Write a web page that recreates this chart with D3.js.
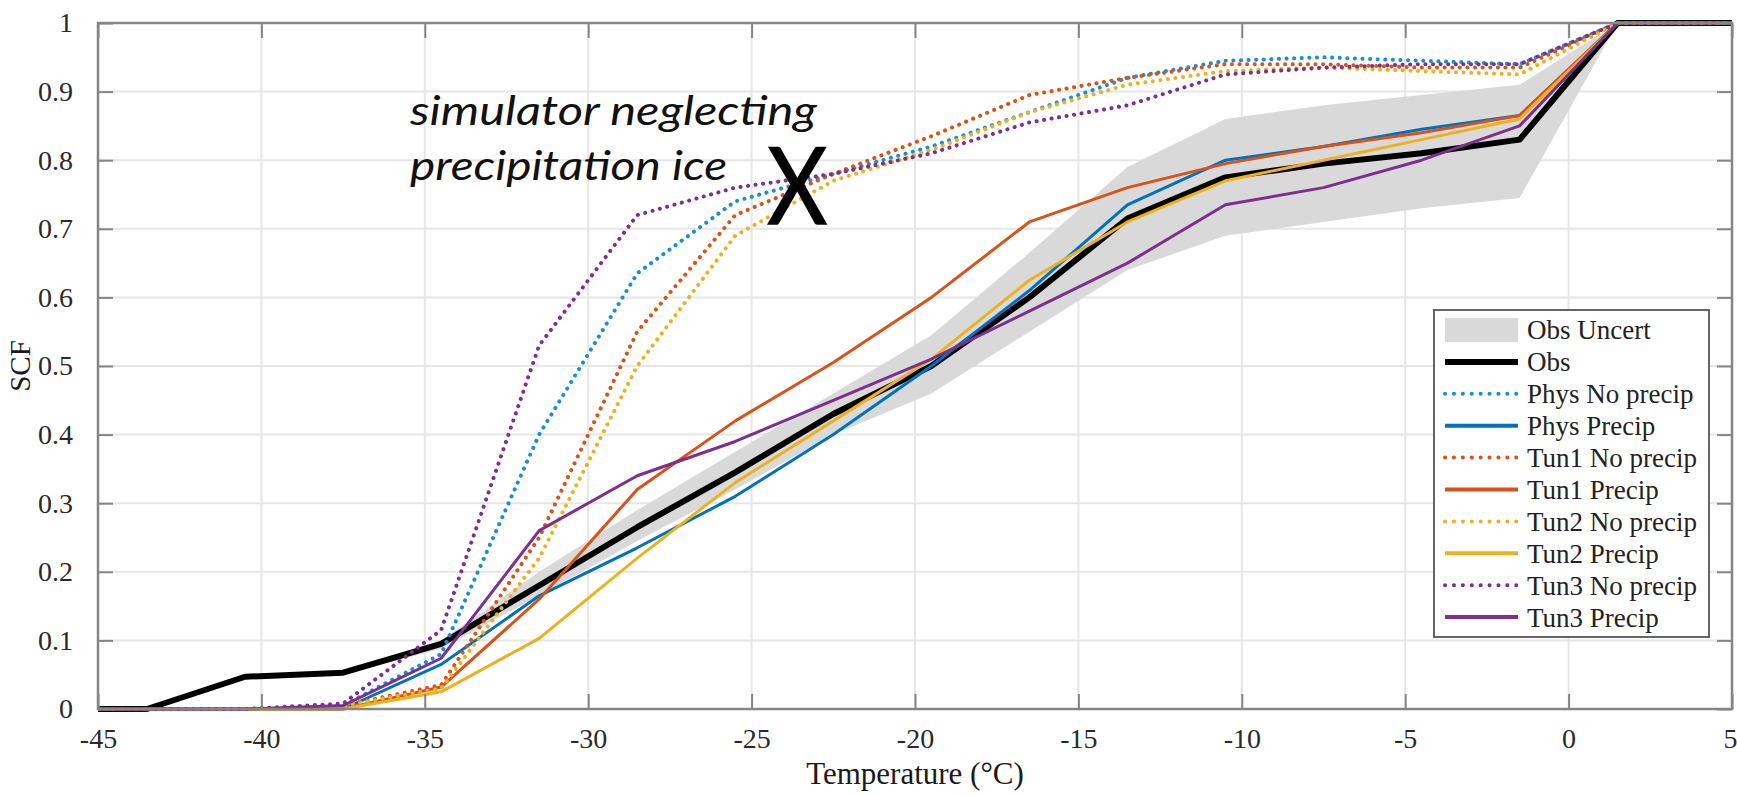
<!DOCTYPE html>
<html>
<head>
<meta charset="utf-8">
<script src="https://cdn.jsdelivr.net/npm/d3@7"></script>
<style>
  html, body { margin: 0; padding: 0; background: #fff; }
  svg { display: block; }
</style>
</head>
<body>
<svg id="chart" width="1737" height="795"></svg>
<script>
// ---------------- data ----------------
const temps = [-46.5, -43.5, -40.5, -37.5, -34.5, -31.5, -28.5, -25.5, -22.5, -19.5, -16.5, -13.5, -10.5, -7.5, -4.5, -1.5, 1.5, 4.5, 7.5];

const obs       = [0, 0, 0.047, 0.053, 0.095, 0.18, 0.265, 0.345, 0.43, 0.50, 0.60, 0.715, 0.775, 0.795, 0.81, 0.83, 1, 1, 1];
const obsLow    = [0, 0, 0.045, 0.05, 0.088, 0.165, 0.245, 0.32, 0.40, 0.46, 0.55, 0.64, 0.69, 0.71, 0.73, 0.745, 1, 1, 1];
const obsHigh   = [0, 0, 0.05, 0.056, 0.10, 0.20, 0.29, 0.375, 0.46, 0.545, 0.665, 0.79, 0.86, 0.88, 0.895, 0.91, 1, 1, 1];

const physNo    = [0, 0, 0, 0.005, 0.08, 0.40, 0.635, 0.74, 0.78, 0.82, 0.87, 0.92, 0.945, 0.95, 0.945, 0.94, 1, 1, 1];
const physP     = [0, 0, 0, 0, 0.065, 0.165, 0.235, 0.31, 0.40, 0.50, 0.61, 0.735, 0.80, 0.82, 0.845, 0.865, 1, 1, 1];
const tun1No    = [0, 0, 0, 0.005, 0.035, 0.25, 0.55, 0.72, 0.78, 0.835, 0.895, 0.92, 0.94, 0.94, 0.935, 0.935, 1, 1, 1];
const tun1P     = [0, 0, 0, 0, 0.032, 0.16, 0.32, 0.42, 0.505, 0.60, 0.71, 0.76, 0.795, 0.82, 0.84, 0.865, 1, 1, 1];
const tun2No    = [0, 0, 0, 0.005, 0.03, 0.22, 0.50, 0.69, 0.77, 0.815, 0.87, 0.91, 0.93, 0.935, 0.93, 0.925, 1, 1, 1];
const tun2P     = [0, 0, 0, 0, 0.025, 0.103, 0.22, 0.33, 0.42, 0.51, 0.625, 0.71, 0.77, 0.80, 0.83, 0.86, 1, 1, 1];
const tun3No    = [0, 0, 0, 0.008, 0.115, 0.53, 0.72, 0.76, 0.78, 0.81, 0.855, 0.88, 0.925, 0.935, 0.94, 0.94, 1, 1, 1];
const tun3P     = [0, 0, 0, 0.005, 0.074, 0.26, 0.34, 0.39, 0.45, 0.51, 0.58, 0.65, 0.735, 0.76, 0.80, 0.85, 1, 1, 1];

const seriesNames  = ["Obs", "Phys No precip", "Phys Precip", "Tun1 No precip", "Tun1 Precip", "Tun2 No precip", "Tun2 Precip", "Tun3 No precip", "Tun3 Precip"];
const seriesValues = [obs, physNo, physP, tun1No, tun1P, tun2No, tun2P, tun3No, tun3P];
const seriesColors = ["#000000", "#1a8fd0", "#0072BD", "#D95319", "#D95319", "#EDB120", "#EDB120", "#7E2F8E", "#7E2F8E"];
const seriesDotted = [false, true, false, true, false, true, false, true, false];
const bandName = "Obs Uncert";

const xTicks = [-45, -40, -35, -30, -25, -20, -15, -10, -5, 0, 5];
const yTicks = [0, 0.1, 0.2, 0.3, 0.4, 0.5, 0.6, 0.7, 0.8, 0.9, 1];
const yTickLabels = ["0", "0.1", "0.2", "0.3", "0.4", "0.5", "0.6", "0.7", "0.8", "0.9", "1"];

const annotationLines = ["simulator neglecting", "precipitation ice"];
const markerPoint = { t: -23.6, v: 0.763 };

// ---------------- layout ----------------
const pL = 98, pR = 1732, pT = 23, pB = 709;
const serif = "'Liberation Serif', 'Times New Roman', serif";

const svg = d3.select("#chart");
const x = d3.scaleLinear().domain([-45, 5]).range([pL, pR]);
const y = d3.scaleLinear().domain([0, 1]).range([pB, pT]);

svg.append("defs").append("clipPath").attr("id", "plotClip")
  .append("rect").attr("x", pL).attr("y", pT - 4).attr("width", pR - pL).attr("height", pB - pT + 8);

// grid
const grid = svg.append("g");
grid.selectAll("line.gx").data(xTicks).join("line").attr("class", "gx")
  .attr("x1", d => x(d)).attr("x2", d => x(d)).attr("y1", pT).attr("y2", pB)
  .attr("stroke", "#e6e6e6").attr("stroke-width", 2);
grid.selectAll("line.gy").data(yTicks).join("line").attr("class", "gy")
  .attr("y1", d => y(d)).attr("y2", d => y(d)).attr("x1", pL).attr("x2", pR)
  .attr("stroke", "#e6e6e6").attr("stroke-width", 2);

const plot = svg.append("g").attr("clip-path", "url(#plotClip)");

// uncertainty band
const area = d3.area()
  .x((d, i) => x(temps[i]))
  .y0((d, i) => y(obsLow[i]))
  .y1((d, i) => y(obsHigh[i]));
plot.append("path").datum(obs).attr("d", area).attr("fill", "#d9d9d9").attr("stroke", "none");

// lines
const line = d3.line().x((d, i) => x(temps[i])).y(d => y(d));
seriesValues.forEach((vals, k) => {
  const p = plot.append("path").datum(vals).attr("d", line)
    .attr("fill", "none")
    .attr("stroke", seriesColors[k])
    .attr("stroke-linejoin", "round");
  if (k === 0) {
    p.attr("stroke-width", 6);
  } else if (seriesDotted[k]) {
    p.attr("stroke-width", 4).attr("stroke-dasharray", "0.1 7.5").attr("stroke-linecap", "round");
  } else {
    p.attr("stroke-width", 3);
  }
});

// axes
const axisColor = "#858585";
const tickLen = 15;
const gx = svg.append("g").attr("transform", `translate(0,${pB})`)
  .call(d3.axisBottom(x).tickValues(xTicks).tickSizeInner(-tickLen).tickSizeOuter(0).tickPadding(19));
const gy = svg.append("g").attr("transform", `translate(${pL},0)`)
  .call(d3.axisLeft(y).tickValues(yTicks).tickFormat((d, i) => yTickLabels[i]).tickSizeInner(-tickLen).tickSizeOuter(0).tickPadding(25));
const gt = svg.append("g").attr("transform", `translate(0,${pT})`)
  .call(d3.axisTop(x).tickValues(xTicks).tickFormat("").tickSizeInner(-tickLen).tickSizeOuter(0));
const gr = svg.append("g").attr("transform", `translate(${pR},0)`)
  .call(d3.axisRight(y).tickValues(yTicks).tickFormat("").tickSizeInner(-tickLen).tickSizeOuter(0));
[gx, gy, gt, gr].forEach(g => {
  g.select(".domain").remove();
  g.selectAll(".tick line").attr("stroke", axisColor).attr("stroke-width", 2);
  g.selectAll(".tick text").attr("fill", "#2a2a2a").attr("font-family", serif).attr("font-size", 28);
});
gx.selectAll(".tick text").text(d => d < 0 ? "-" + Math.abs(d) : String(d));
// keep the last label inside the page edge
gx.selectAll(".tick text").filter(d => d === 5).attr("text-anchor", "end").attr("dx", 5);

svg.append("rect").attr("x", pL).attr("y", pT).attr("width", pR - pL).attr("height", pB - pT)
  .attr("fill", "none").attr("stroke", axisColor).attr("stroke-width", 2.5);

// axis titles
svg.append("text").attr("transform", `translate(30,${(pT + pB) / 2}) rotate(-90)`)
  .attr("text-anchor", "middle").attr("font-family", serif).attr("font-size", 29).attr("fill", "#1a1a1a")
  .text("SCF");
svg.append("text").attr("x", (pL + pR) / 2).attr("y", 784)
  .attr("text-anchor", "middle").attr("font-family", serif).attr("font-size", 31).attr("fill", "#1a1a1a")
  .text("Temperature (°C)");

// annotation
const annFont = "Lato, 'Open Sans', sans-serif";
svg.append("text").attr("x", 410).attr("y", 125).attr("font-family", annFont).attr("font-style", "italic")
  .attr("font-size", 41).attr("fill", "#111").attr("textLength", 407).attr("lengthAdjust", "spacingAndGlyphs")
  .text(annotationLines[0]);
svg.append("text").attr("x", 410).attr("y", 180).attr("font-family", annFont).attr("font-style", "italic")
  .attr("font-size", 41).attr("fill", "#111").attr("textLength", 317).attr("lengthAdjust", "spacingAndGlyphs")
  .text(annotationLines[1]);
svg.append("text").attr("x", x(markerPoint.t) - 30).attr("y", y(markerPoint.v) + 38)
  .attr("font-family", annFont).attr("font-size", 106).attr("fill", "#000")
  .attr("stroke", "#000").attr("stroke-width", 1.5)
  .attr("textLength", 60).attr("lengthAdjust", "spacingAndGlyphs")
  .text("X");

// legend
const lg = svg.append("g");
const lgX = 1434, lgY = 310, lgW = 275, lgH = 327;
lg.append("rect").attr("x", lgX).attr("y", lgY).attr("width", lgW).attr("height", lgH)
  .attr("fill", "#fff").attr("stroke", "#555").attr("stroke-width", 1.8);
const rowH = 31.9, row0 = 330, sx1 = 1445, sx2 = 1518, tx = 1527;
const legendNames = [bandName].concat(seriesNames);
legendNames.forEach((name, i) => {
  const cy = row0 + i * rowH;
  if (i === 0) {
    lg.append("rect").attr("x", sx1).attr("y", cy - 12).attr("width", sx2 - sx1).attr("height", 24).attr("fill", "#d9d9d9");
  } else {
    const k = i - 1;
    const l = lg.append("line").attr("x1", sx1).attr("x2", sx2).attr("y1", cy).attr("y2", cy)
      .attr("stroke", seriesColors[k]);
    if (k === 0) l.attr("stroke-width", 6);
    else if (seriesDotted[k]) l.attr("stroke-width", 4).attr("stroke-dasharray", "0.1 8.8").attr("stroke-linecap", "round");
    else l.attr("stroke-width", 4);
  }
  lg.append("text").attr("x", tx).attr("y", cy).attr("dy", "0.35em")
    .attr("font-family", serif).attr("font-size", 27).attr("fill", "#222").text(name);
});
</script>
</body>
</html>
